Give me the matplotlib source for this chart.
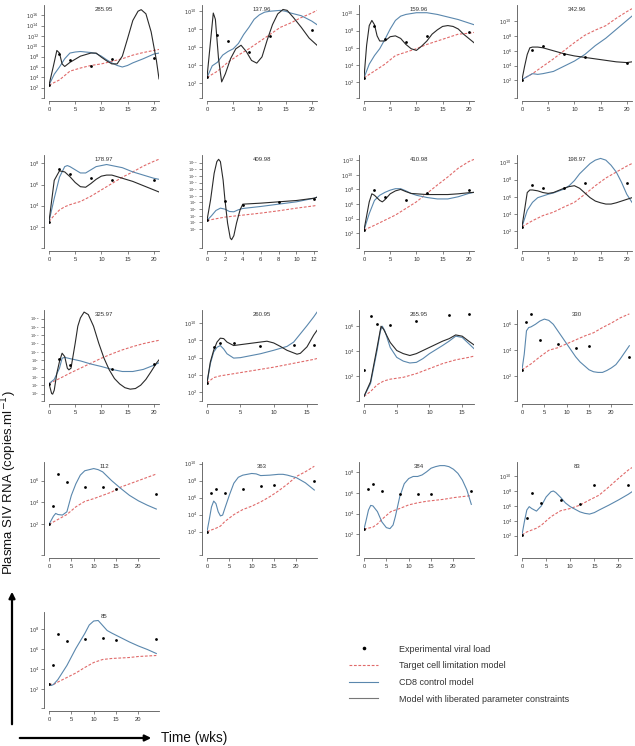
import matplotlib.pyplot as plt
from matplotlib.lines import Line2D

plt.rcParams['font.family'] = ['Liberation Sans', 'DejaVu Sans']

# one entry per panel, read left to right, top to bottom
titles = ['285.95', '137.96', '159.96', '342.96',
          '178.97', '409.98', '410.98', '198.97',
          '325.97', '260.95', '265.95', '330',
          '112', '363', '384', '83',
          '85']

x_max = [21, 21, 21, 21,
         21, 12.3, 21, 21,
         21, 16.5, 16.8, 24.6,
         24.6, 24.6, 24.6, 22.8,
         24.6]

# log10 limits of the y axis
y_lim = [(0, 18), (0.3, 10.7), (0.15, 11.0), (-0.4, 12.2),
         (0, 8.8), (-5.7, 22.3), (0, 12.7), (0, 10.9),
         (-1.8, 20.1), (1.0, 11.5), (0, 7.3), (0.1, 7.1),
         (-0.8, 7.7), (-0.75, 10.2), (0, 9.0), (-0.6, 11.9),
         (0.1, 9.7)]

# first and last labelled power of ten
y_labels = [(2, 16), (2, 10), (2, 10), (2, 10),
            (2, 8), (0, 20), (2, 12), (2, 10),
            (0, 18), (2, 10), (2, 6), (2, 6),
            (2, 6), (2, 10), (2, 8), (2, 10),
            (2, 8)]

x_ticks = [[0, 5, 10, 15, 20]] * 5 + [[0, 2, 4, 6, 8, 10, 12]] + [[0, 5, 10, 15, 20]] * 3 \
    + [[0, 5, 10, 15]] * 2 + [[0, 5, 10, 15, 20]] * 6

# experimental viral load (weeks, log10 copies/ml)
obs_weeks = [[0, 2, 4, 8, 12, 20], [0, 2, 4, 8, 12, 20], [0, 2, 4, 8, 12, 20], [0, 2, 4, 8, 12, 20],
             [0, 2, 4, 8, 12, 20], [0, 2, 4, 8, 12], [0, 2, 4, 8, 12, 20], [0, 2, 4, 8, 12, 20],
             [0, 2, 4, 12, 20], [0, 1, 2, 4, 8, 13, 16], [0, 1, 2, 4, 8, 13, 16], [0, 1, 2, 4, 8, 12, 15, 24],
             [0, 1, 2, 4, 8, 12, 15, 24], [0, 1, 2, 4, 8, 12, 15, 24], [0, 1, 2, 4, 8, 12, 15, 24],
             [0, 1, 2, 4, 8, 12, 15, 22],
             [0, 1, 2, 4, 8, 12, 15, 24]]
obs_log = [[2.5, 8.6, 7.3, 6.1, 7.5, 7.7], [2.6, 7.3, 6.7, 5.4, 7.2, 7.9],
           [2.5, 8.5, 7.0, 6.7, 7.4, 7.9], [2.1, 6.1, 6.6, 5.5, 5.2, 4.4],
           [2.5, 7.5, 7.0, 6.6, 6.4, 6.4], [2.6, 8.5, 7.3, 8.0, 9.0],
           [2.45, 7.9, 6.9, 6.6, 7.45, 7.9], [2.5, 7.4, 7.0, 7.0, 7.6, 7.6],
           [2.4, 8.3, 6.8, 5.8, 7.0], [3.08, 7.2, 7.7, 7.7, 7.4, 7.5, 7.5],
           [2.5, 6.8, 6.2, 6.1, 6.4, 6.9, 7.0], [2.5, 6.2, 6.8, 4.8, 4.5, 4.2, 4.3, 3.5],
           [2.0, 3.7, 6.6, 5.9, 5.4, 5.4, 5.2, 4.75], [2.0, 6.5, 7.0, 6.6, 7.0, 7.4, 7.5, 8.0],
           [2.5, 6.4, 6.9, 6.2, 5.9, 5.9, 5.95, 6.2], [2.1, 4.4, 7.75, 6.4, 6.8, 6.2, 8.8, 8.8],
           [2.5, 4.4, 7.5, 6.8, 7.0, 7.1, 6.9, 7.0]]

# target cell limitation model (weeks, log10)
tcl_curves = [
    [(0, 2.5), (2, 3.5), (4, 5.2), (6, 5.8), (8, 6.3), (10, 6.6), (12, 7.1), (14, 7.6), (16, 8.3), (18, 8.8), (20, 9.2), (21, 9.4)],
    [(0, 2.6), (2, 3.3), (4, 4.3), (6, 5.1), (8, 5.8), (10, 6.6), (12, 7.4), (14, 8.2), (16, 8.7), (18, 9.3), (20, 9.8), (21, 10.1)],
    [(0, 2.5), (2, 3.3), (4, 4.1), (6, 5.1), (8, 5.5), (10, 5.9), (12, 6.4), (14, 6.8), (16, 7.2), (18, 7.6), (20, 7.7), (21, 7.8)],
    [(0, 2.1), (2, 2.9), (4, 3.9), (6, 4.9), (8, 6.0), (10, 7.1), (12, 8.1), (14, 8.8), (16, 9.4), (18, 10.4), (20, 11.3), (21, 11.7)],
    [(0, 2.5), (1, 3.1), (2, 3.6), (3, 3.9), (4, 4.1), (6, 4.4), (8, 4.9), (10, 5.5), (12, 6.1), (14, 6.7), (16, 7.2), (18, 7.75), (20, 8.2), (21, 8.4)],
    [(0, 2.6), (2, 3.6), (4, 4.2), (6, 4.8), (8, 5.5), (10, 6.3), (12, 7.0), (12.3, 7.2)],
    [(0, 2.45), (2, 3.1), (4, 3.8), (6, 4.5), (8, 5.4), (10, 6.3), (12, 7.45), (14, 8.6), (16, 9.7), (18, 10.9), (20, 11.8), (21, 12.1)],
    [(0, 2.5), (2, 3.2), (4, 3.8), (6, 4.2), (8, 4.8), (10, 5.35), (12, 6.3), (14, 7.3), (16, 8.2), (18, 8.9), (20, 9.6), (21, 9.9)],
    [(0, 2.4), (2, 3.6), (4, 4.9), (6, 6.1), (8, 7.3), (10, 8.5), (12, 9.55), (14, 10.5), (16, 11.3), (18, 12.0), (20, 12.55), (21, 12.8)],
    [(0, 3.08), (1, 3.7), (2, 3.9), (4, 4.15), (6, 4.4), (8, 4.65), (10, 4.9), (12, 5.2), (14, 5.5), (16, 5.8), (16.5, 5.9)],
    [(0, 0.37), (1, 0.76), (2, 1.3), (3, 1.6), (4, 1.75), (6, 1.9), (8, 2.2), (10, 2.6), (12, 3.0), (14, 3.3), (16, 3.5), (16.8, 3.6)],
    [(0, 2.5), (2, 2.95), (4, 3.5), (6, 4.0), (8, 4.2), (10, 4.5), (12, 4.8), (14, 5.1), (16, 5.35), (18, 5.75), (20, 6.1), (22, 6.5), (24, 6.8)],
    [(0, 2.0), (2, 2.45), (4, 2.9), (6, 3.6), (8, 4.1), (10, 4.35), (12, 4.65), (14, 4.95), (16, 5.4), (18, 5.7), (20, 6.0), (22, 6.3), (24, 6.6)],
    [(0, 2.0), (2, 2.4), (3, 2.65), (4, 3.2), (6, 4.0), (8, 4.6), (10, 5.0), (12, 5.5), (14, 6.1), (16, 6.8), (18, 7.6), (20, 8.5), (22, 9.05), (24, 9.7)],
    [(0, 2.5), (2, 2.7), (3, 3.0), (4, 3.45), (6, 4.2), (8, 4.5), (10, 4.85), (12, 5.05), (14, 5.2), (16, 5.3), (18, 5.4), (20, 5.55), (22, 5.65), (24, 5.75)],
    [(0, 2.1), (1, 2.5), (2, 2.75), (3, 3.0), (4, 3.4), (6, 4.55), (8, 5.35), (10, 5.65), (12, 6.1), (14, 6.8), (16, 7.45), (18, 8.55), (20, 9.7), (22, 10.8), (22.8, 11.15)],
    [(0, 2.5), (1, 2.45), (2, 2.7), (4, 3.15), (6, 3.6), (8, 4.15), (10, 4.65), (12, 4.95), (14, 5.05), (16, 5.1), (18, 5.15), (20, 5.25), (22, 5.3), (24, 5.35)],
]

# CD8 control model
cd8_curves = [
    [(0, 2.5), (1, 4.6), (2, 6.0), (3, 7.6), (4, 8.7), (5, 8.9), (6, 9.0), (8, 8.8), (9, 8.6), (10, 8.1), (11, 7.4), (12, 6.8), (13, 6.3), (14, 6.0), (15, 6.3), (16, 6.8), (18, 7.6), (20, 8.5), (21, 8.7)],
    [(0, 2.6), (1, 3.9), (2, 4.3), (3, 5.1), (4, 5.5), (5, 5.8), (6, 6.4), (7, 7.4), (8, 8.2), (9, 9.1), (10, 9.6), (11, 9.9), (12, 10.0), (14, 10.1), (15, 10.0), (16, 9.8), (18, 9.5), (20, 8.9), (21, 8.5)],
    [(0, 2.5), (1, 4.1), (2, 5.1), (3, 5.9), (4, 7.0), (5, 8.2), (6, 9.2), (7, 9.7), (8, 9.9), (10, 10.1), (12, 10.1), (14, 9.9), (16, 9.6), (18, 9.3), (20, 8.9), (21, 8.7)],
    [(0, 2.1), (2, 2.9), (3, 2.8), (4, 2.9), (6, 3.2), (8, 3.9), (10, 4.6), (12, 5.5), (14, 6.7), (16, 7.7), (18, 8.9), (20, 10.1), (21, 10.7)],
    [(0, 2.5), (1, 4.7), (2, 6.7), (3, 7.7), (3.5, 7.8), (4, 7.7), (5, 7.4), (6, 7.1), (7, 7.1), (8, 7.4), (9, 7.7), (10, 7.8), (11, 7.9), (12, 7.8), (14, 7.6), (16, 7.2), (18, 6.9), (20, 6.6), (21, 6.5)],
    [(0, 2.6), (0.5, 4.0), (1, 5.6), (1.5, 6.3), (2, 6.0), (2.5, 5.3), (3, 5.2), (3.5, 5.8), (4, 6.2), (6, 6.8), (8, 7.5), (10, 8.2), (12, 9.3), (12.3, 9.6)],
    [(0, 2.45), (1, 4.7), (2, 6.5), (3, 7.2), (4, 7.6), (5, 7.9), (6, 8.1), (7, 8.1), (8, 7.8), (9, 7.45), (10, 7.2), (12, 6.9), (14, 6.7), (16, 6.7), (18, 7.0), (20, 7.45), (21, 7.6)],
    [(0, 2.5), (1, 4.4), (2, 5.35), (3, 5.9), (4, 6.1), (5, 6.3), (6, 6.45), (8, 6.9), (9, 7.3), (10, 7.9), (11, 8.7), (12, 9.3), (13, 9.9), (14, 10.3), (15, 10.5), (16, 10.3), (17, 9.7), (18, 8.9), (19, 7.7), (20, 6.3), (21, 5.35)],
    [(0, 2.4), (1, 3.4), (2, 6.1), (2.5, 8.5), (3, 8.7), (4, 8.4), (6, 7.85), (8, 7.1), (10, 6.5), (12, 5.8), (14, 5.3), (15, 5.3), (16, 5.3), (18, 5.8), (20, 6.8), (21, 7.4)],
    [(0, 3.08), (0.5, 5.3), (1, 6.65), (1.5, 7.2), (2, 7.4), (2.5, 7.0), (3, 6.45), (4, 5.95), (5, 6.0), (6, 6.15), (8, 6.45), (10, 6.85), (12, 7.3), (13, 7.8), (14, 8.75), (15, 9.7), (16, 10.7), (16.5, 11.25)],
    [(0, 0.37), (1, 1.4), (2, 4.05), (2.5, 5.6), (2.8, 6.0), (3.2, 5.6), (4, 4.3), (5, 3.5), (6, 3.2), (7, 3.05), (8, 3.1), (9, 3.4), (10, 3.8), (12, 4.45), (13, 4.8), (14, 5.2), (15, 5.1), (16, 4.6), (16.8, 4.2)],
    [(0, 2.5), (0.5, 3.7), (1, 5.5), (1.5, 5.75), (2, 5.8), (3, 6.0), (4, 6.25), (5, 6.4), (6, 6.3), (7, 6.0), (8, 5.5), (9, 5.0), (10, 4.5), (11, 4.0), (12, 3.5), (13, 3.1), (14, 2.8), (15, 2.5), (16, 2.35), (17, 2.3), (18, 2.3), (19, 2.45), (20, 2.65), (21, 2.9), (22, 3.35), (23, 3.85), (24, 4.35)],
    [(0, 2.0), (1, 2.75), (1.5, 3.0), (2, 2.9), (3, 2.85), (4, 3.15), (5, 4.65), (6, 5.7), (7, 6.5), (8, 6.9), (9, 7.0), (10, 7.1), (11, 7.0), (12, 6.8), (13, 6.4), (14, 6.0), (16, 5.3), (18, 4.65), (20, 4.15), (22, 3.75), (24, 3.4)],
    [(0, 2.0), (0.5, 3.4), (1, 4.9), (1.5, 5.6), (2, 5.3), (2.5, 4.35), (3, 3.85), (3.5, 3.95), (4, 4.75), (5, 6.3), (6, 7.7), (7, 8.4), (8, 8.65), (10, 8.85), (11, 8.8), (12, 8.6), (14, 8.65), (16, 8.75), (17, 8.75), (18, 8.65), (20, 8.35), (22, 7.75), (24, 6.9)],
    [(0, 2.5), (0.5, 3.4), (1, 4.35), (1.5, 4.8), (2, 4.75), (3, 4.2), (4, 3.2), (5, 2.65), (5.8, 2.55), (6.5, 2.9), (7, 3.7), (8, 5.65), (9, 6.9), (10, 7.4), (11, 7.6), (12, 7.6), (13, 7.75), (14, 8.05), (15, 8.4), (16, 8.55), (17, 8.65), (18, 8.65), (19, 8.55), (20, 8.3), (21, 7.9), (22, 7.25), (23, 6.3), (24, 4.9)],
    [(0, 2.1), (0.5, 3.9), (1, 5.45), (1.5, 5.9), (2, 5.65), (3, 5.3), (4, 6.0), (5, 7.2), (6, 7.9), (6.5, 8.0), (7, 7.8), (8, 7.15), (9, 6.4), (10, 5.9), (12, 5.2), (13, 5.0), (14, 4.9), (15, 5.1), (16, 5.45), (18, 6.1), (20, 6.8), (22, 7.55), (22.8, 7.9)],
    [(0, 2.5), (0.5, 2.35), (1, 2.45), (2, 2.95), (4, 4.35), (6, 6.05), (8, 7.55), (9, 8.4), (10, 8.8), (11, 8.85), (12, 8.35), (13, 7.85), (14, 7.6), (16, 7.15), (18, 6.7), (20, 6.3), (22, 5.95), (24, 5.55)],
]

# model with liberated parameter constraints (missing in the last six panels)
free_curves = [
    [(0, 2.5), (0.8, 6.0), (1.5, 9.2), (2, 8.7), (2.5, 6.6), (3, 6.1), (4, 6.9), (6, 8.1), (8, 8.7), (9, 8.7), (10, 7.9), (11, 7.2), (12, 6.6), (13, 6.6), (14, 8.1), (15, 11.5), (16, 15.0), (17, 16.8), (17.6, 17.1), (18.5, 16.3), (19.5, 12.8), (20.5, 7.3), (21, 3.7)],
    [(0, 2.6), (0.6, 6.2), (1.2, 9.8), (1.6, 9.1), (2.2, 4.7), (2.8, 2.1), (3.5, 3.0), (4.5, 4.7), (5.5, 5.8), (6.5, 6.2), (7.5, 5.5), (8.5, 4.5), (9.5, 4.2), (10.5, 4.9), (11.5, 6.8), (12.5, 8.5), (13.5, 9.7), (14.5, 10.2), (15.3, 10.1), (16.5, 9.3), (18, 8.2), (19.5, 7.0), (21, 6.2)],
    [(0, 2.5), (0.5, 6.3), (1, 8.6), (1.5, 9.2), (2, 8.7), (2.5, 7.4), (3, 6.8), (4, 6.8), (5, 7.3), (6, 7.4), (7, 7.1), (8, 6.4), (9, 5.9), (10, 5.7), (11, 6.2), (12, 6.8), (13, 7.6), (14, 8.1), (15, 8.5), (16, 8.6), (17, 8.5), (18, 8.2), (19, 7.6), (20, 7.1), (21, 6.6)],
    [(0, 2.1), (0.5, 3.9), (1, 5.5), (1.5, 6.4), (2, 6.5), (3, 6.5), (4, 6.4), (6, 6.0), (8, 5.6), (10, 5.3), (12, 5.1), (14, 4.9), (16, 4.7), (18, 4.5), (20, 4.4), (21, 4.5)],
    [(0, 2.5), (1, 6.4), (2, 7.3), (3, 7.2), (4, 6.75), (5, 6.2), (6, 5.8), (7, 5.75), (8, 6.1), (9, 6.5), (10, 6.8), (11, 6.9), (12, 6.9), (14, 6.6), (16, 6.3), (18, 5.9), (20, 5.5), (21, 5.3)],
    [(0, 2.6), (0.4, 8.8), (0.8, 16.8), (1.1, 20.3), (1.3, 21.0), (1.5, 20.3), (1.8, 14.8), (2, 9.0), (2.3, 1.8), (2.6, -2.7), (2.75, -3.2), (3, -2.0), (3.3, 1.8), (3.7, 5.8), (4, 7.5), (6, 7.8), (8, 8.2), (10, 8.6), (12, 9.3), (12.3, 9.6)],
    [(0, 2.45), (1, 6.3), (1.5, 7.4), (2, 7.2), (3, 6.5), (3.5, 6.3), (4, 6.6), (5, 7.4), (6, 7.8), (7, 8.0), (8, 7.7), (9, 7.45), (10, 7.4), (12, 7.3), (14, 7.3), (16, 7.3), (18, 7.4), (20, 7.55), (21, 7.6)],
    [(0, 2.5), (1, 6.5), (1.5, 6.8), (2, 6.8), (3, 6.7), (4, 6.5), (5, 6.4), (6, 6.5), (8, 7.0), (9, 7.2), (10, 7.3), (11, 7.0), (12, 6.45), (13, 5.9), (14, 5.5), (15, 5.3), (16, 5.15), (17, 5.15), (18, 5.3), (19, 5.5), (20, 5.7), (21, 5.9)],
    [(0, 2.4), (0.5, 0.0), (0.7, -0.15), (1, 0.8), (1.5, 4.9), (2, 7.7), (2.5, 9.7), (3, 8.9), (3.5, 6.1), (3.8, 5.7), (4.2, 6.1), (5, 12.1), (5.5, 16.2), (6, 18.2), (6.7, 19.6), (7.5, 19.0), (8.5, 16.2), (9.5, 12.1), (10.5, 8.5), (11.5, 5.7), (12.5, 3.6), (13.5, 2.3), (14.5, 1.4), (15.5, 1.05), (16.5, 1.2), (17.5, 2.0), (18.5, 3.4), (19.5, 5.3), (20.5, 7.3), (21, 8.1)],
    [(0, 3.08), (0.5, 5.5), (1, 6.85), (1.5, 7.8), (2, 8.25), (2.5, 8.2), (3, 7.8), (4, 7.4), (6, 7.6), (8, 7.8), (9, 7.9), (10, 7.7), (11, 7.3), (12, 6.85), (13, 6.55), (13.5, 6.4), (14, 6.5), (15, 7.25), (16, 8.6), (16.5, 9.15)],
    [(0, 0.37), (1, 1.55), (2, 4.3), (2.6, 6.0), (3, 5.75), (4, 4.7), (5, 4.05), (6, 3.8), (7, 3.65), (8, 3.8), (9, 4.05), (10, 4.3), (12, 4.8), (13, 5.0), (14, 5.3), (15, 5.2), (16, 4.8), (16.8, 4.5)],
    None, None, None, None, None, None,
]

red = '#e06a6a'
blue = '#5a87ad'
black = '#2a2a2a'
axis_grey = '#555555'

fig = plt.figure(figsize=(6.35, 7.46), dpi=100)
W, H = 635, 746

col_left = [49, 207, 364, 522]
row_top = [5, 155, 310, 462, 612]
row_bottom = [98, 248, 401, 555, 708]
panel_w = 110

for i, name in enumerate(titles):
    r, c = divmod(i, 4)
    x0 = col_left[c]
    ax = fig.add_axes([x0 / W, 1 - row_bottom[r] / H, panel_w / W, (row_bottom[r] - row_top[r]) / H])
    ax.patch.set_alpha(0)

    tcl = tcl_curves[i]
    ax.plot([p[0] for p in tcl], [p[1] for p in tcl], color=red, lw=0.8, ls=(0, (2.5, 1.5)))
    cd8 = cd8_curves[i]
    ax.plot([p[0] for p in cd8], [p[1] for p in cd8], color=blue, lw=0.8)
    if free_curves[i] is not None:
        fr = free_curves[i]
        ax.plot([p[0] for p in fr], [p[1] for p in fr], color=black, lw=0.8)
    ax.plot(obs_weeks[i], obs_log[i], 'o', color='black', ms=2.0, mew=0)

    ax.set_xlim(0, x_max[i])
    ax.set_ylim(*y_lim[i])
    lo, hi = y_labels[i]
    exps = list(range(lo, hi + 1, 2))
    ax.set_yticks([y_lim[i][0]] + exps)
    ax.set_yticklabels([''] + ['$10^{%d}$' % e for e in exps])
    ax.set_xticks(x_ticks[i])

    for side in ['top', 'right']:
        ax.spines[side].set_visible(False)
    ax.spines['left'].set_position(('outward', 3.6))
    ax.spines['bottom'].set_position(('outward', 2.2))
    for side in ['left', 'bottom']:
        ax.spines[side].set_color(axis_grey)
        ax.spines[side].set_linewidth(0.6)
    dense = len(exps) > 8
    ax.tick_params(length=2, width=0.5, color=axis_grey, labelsize=2.5 if dense else 3.6,
                   pad=1.5, labelcolor='#333333')
    ax.tick_params(axis='x', labelsize=4.2, pad=2.5)

    ax.text(0.5, 0.95, name, transform=ax.transAxes, ha='center', va='center', fontsize=4.3, color='#333333')

# overlay for the shared labels, arrows and legend (pixel coordinates)
ov = fig.add_axes([0, 0, 1, 1])
ov.set_xlim(0, W)
ov.set_ylim(H, 0)
ov.axis('off')

ov.text(9.5, 483, 'Plasma SIV RNA (copies.ml$^{-1}$)', rotation=90, ha='center', va='center',
        fontsize=9.5, color='#111111')
ov.annotate('', xy=(12, 589), xytext=(12, 727),
            arrowprops=dict(arrowstyle='-|>', lw=1.6, color='black', mutation_scale=9))
ov.annotate('', xy=(154, 738), xytext=(17, 738),
            arrowprops=dict(arrowstyle='-|>', lw=1.6, color='black', mutation_scale=9))
ov.text(161, 738, 'Time (wks)', ha='left', va='center', fontsize=9.8, color='#111111')

handles = [
    Line2D([], [], ls='none', marker='o', color='black', ms=2.6, mew=0),
    Line2D([], [], color=red, lw=0.8, ls=(0, (2.5, 1.5))),
    Line2D([], [], color=blue, lw=0.8),
    Line2D([], [], color='#777777', lw=0.8),
]
labels = ['Experimental viral load', 'Target cell limitation model',
          'CD8 control model', 'Model with liberated parameter constraints']
fig.legend(handles, labels, loc='upper left', bbox_to_anchor=(345 / W, 1 - 641 / H),
           frameon=False, fontsize=6.5, handlelength=3.3, handletextpad=2.3,
           labelspacing=0.85, borderaxespad=0, labelcolor='#333333')

fig.savefig('out.png', dpi=100)
